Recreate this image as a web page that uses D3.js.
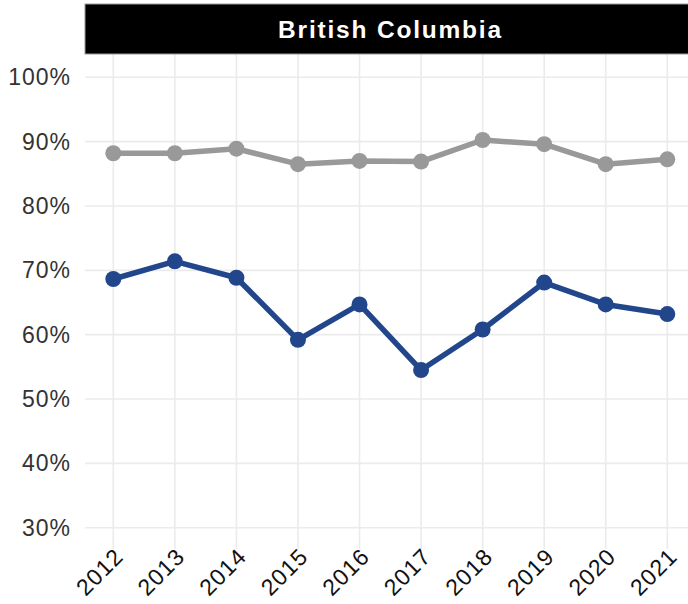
<!DOCTYPE html>
<html>
<head>
<meta charset="utf-8">
<script src="https://d3js.org/d3.v7.min.js"></script>
<style>
  body { margin: 0; background: #fff; }
  svg { display: block; font-family: "Liberation Sans", Arial, sans-serif; }
</style>
</head>
<body>
<svg id="chart" width="688" height="604"></svg>
<script>
// data
var years = [2012, 2013, 2014, 2015, 2016, 2017, 2018, 2019, 2020, 2021];
var greyValues = [88.2, 88.2, 88.9, 86.5, 87.0, 86.9, 90.25, 89.6, 86.5, 87.25];
var blueValues = [68.65, 71.4, 68.85, 59.2, 64.7, 54.5, 60.8, 68.1, 64.7, 63.2];
var yTicks = [30, 40, 50, 60, 70, 80, 90, 100];
var title = "British Columbia";

var svg = d3.select("#chart");

var panel = {left: 85, right: 696, top: 54, bottom: 549};

var y = d3.scaleLinear()
    .domain([26.69, 103.62])
    .range([panel.bottom, panel.top]);

var x = d3.scalePoint()
    .domain(years)
    .range([113.3, 667.3]);

// grid
var grid = svg.append("g").attr("class", "grid");

grid.selectAll("line.h")
    .data(yTicks)
    .enter().append("line")
    .attr("class", "h")
    .attr("x1", panel.left)
    .attr("x2", panel.right)
    .attr("y1", function(d) { return y(d); })
    .attr("y2", function(d) { return y(d); })
    .attr("stroke", "#ebebeb")
    .attr("stroke-width", 1.6);

grid.selectAll("line.v")
    .data(years)
    .enter().append("line")
    .attr("class", "v")
    .attr("x1", function(d) { return x(d); })
    .attr("x2", function(d) { return x(d); })
    .attr("y1", panel.top)
    .attr("y2", panel.bottom)
    .attr("stroke", "#ebebeb")
    .attr("stroke-width", 1.6);

// y axis labels
var yAxis = d3.axisLeft(y)
    .tickValues(yTicks)
    .tickSize(0)
    .tickPadding(0)
    .tickFormat(function(d) { return d + "%"; });

svg.append("g")
    .attr("transform", "translate(71,0)")
    .call(yAxis)
    .call(function(g) { g.select(".domain").remove(); })
    .selectAll("text")
    .attr("font-size", 23)
    .attr("letter-spacing", 1)
    .attr("font-family", "Liberation Sans, Arial, sans-serif")
    .attr("fill", "#333");

// x axis labels, rotated
var xAxis = d3.axisBottom(x)
    .tickSize(0)
    .tickPadding(0);

svg.append("g")
    .attr("transform", "translate(0,558)")
    .call(xAxis)
    .call(function(g) { g.select(".domain").remove(); })
    .selectAll("text")
    .attr("font-size", 23)
    .attr("letter-spacing", 1)
    .attr("font-family", "Liberation Sans, Arial, sans-serif")
    .attr("fill", "#111")
    .attr("text-anchor", "end")
    .attr("y", 0)
    .attr("dy", 0)
    .attr("transform", "translate(11,0) rotate(-45)");

// title strip
svg.append("rect")
    .attr("x", panel.left)
    .attr("y", 4)
    .attr("width", panel.right - panel.left)
    .attr("height", 50)
    .attr("fill", "#000")
    .attr("stroke", "#999")
    .attr("stroke-width", 1);

svg.append("text")
    .attr("x", (panel.left + panel.right) / 2)
    .attr("y", 37.5)
    .attr("text-anchor", "middle")
    .attr("font-size", 24.5)
    .attr("letter-spacing", 1.8)
    .attr("font-weight", "bold")
    .attr("fill", "#fff")
    .text(title);

// series
var series = [
    {values: greyValues, color: "#999999"},
    {values: blueValues, color: "#22468b"}
];

var line = d3.line()
    .x(function(d) { return x(d.year); })
    .y(function(d) { return y(d.value); });

series.forEach(function(s) {
    var pts = years.map(function(yr, i) { return {year: yr, value: s.values[i]}; });

    svg.append("path")
        .datum(pts)
        .attr("d", line)
        .attr("fill", "none")
        .attr("stroke", s.color)
        .attr("stroke-width", 5.5)
        .attr("stroke-linejoin", "round");

    svg.append("g").selectAll("circle")
        .data(pts)
        .enter().append("circle")
        .attr("cx", function(d) { return x(d.year); })
        .attr("cy", function(d) { return y(d.value); })
        .attr("r", 8)
        .attr("fill", s.color);
});
</script>
</body>
</html>
